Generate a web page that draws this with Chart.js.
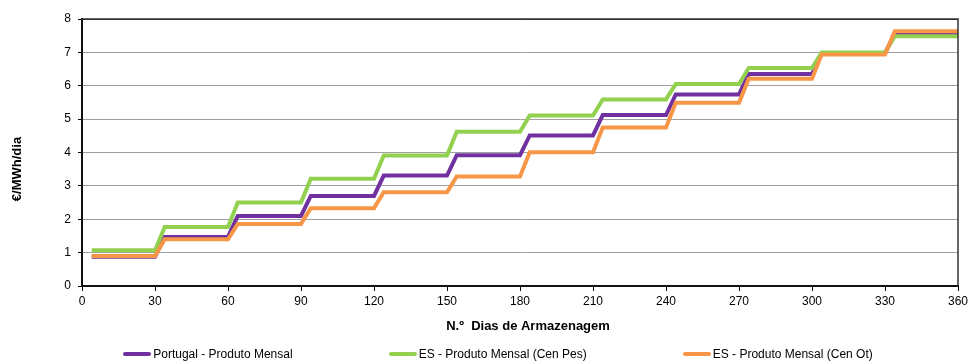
<!DOCTYPE html>
<html>
<head>
<meta charset="utf-8">
<script src="https://cdn.jsdelivr.net/npm/chart.js@4"></script>
<style>
  body { margin: 0; background: #fff; }
  #wrap { position: relative; width: 976px; height: 361px; }
  #legenda {
    position: absolute; left: 0; top: 347px; width: 976px; box-sizing: border-box; padding-left: 20px;
    display: flex; justify-content: center; gap: 96px;
    font: 12px "Liberation Sans", Arial, sans-serif; color: #000;
  }
  #legenda span.item { display: flex; align-items: center; white-space: nowrap; }
  #legenda i { display: inline-block; width: 28px; height: 4px; border-radius: 2px; margin-right: 2px; }
</style>
</head>
<body>
<div id="wrap">
  <canvas id="grafik" width="976" height="361"></canvas>
  <div id="legenda"></div>
</div>
<script>
// dias de armazenagem (eixo x) e valor mensal de cada serie em €/MWh/dia
const dayTicks = [0, 30, 60, 90, 120, 150, 180, 210, 240, 270, 300, 330, 360];
const valueTicks = [0, 1, 2, 3, 4, 5, 6, 7, 8];
const firstDay = 4;
const rampDays = 4;

const portugal = [0.88, 1.47, 2.10, 2.70, 3.31, 3.92, 4.51, 5.12, 5.74, 6.35, 6.97, 7.56];
const cenPes = [1.07, 1.77, 2.50, 3.21, 3.91, 4.62, 5.11, 5.59, 6.05, 6.53, 7.00, 7.48];
const cenOt = [0.90, 1.40, 1.86, 2.33, 2.81, 3.28, 4.01, 4.75, 5.49, 6.21, 6.94, 7.63];

const series = [
  { label: "Portugal - Produto Mensal", values: portugal, color: "#7030A0", order: 3 },
  { label: "ES - Produto Mensal (Cen Pes)", values: cenPes, color: "#92D050", order: 2 },
  { label: "ES - Produto Mensal (Cen Ot)", values: cenOt, color: "#F79646", order: 1 },
];

// cada mes fica constante e sobe para o seguinte em poucos dias
function degraus(values) {
  const pts = [];
  values.forEach((v, i) => {
    const start = i === 0 ? firstDay : dayTicks[i] + rampDays;
    pts.push({ x: start, y: v });
    pts.push({ x: dayTicks[i + 1], y: v });
  });
  return pts;
}

const fontFamily = '"Liberation Sans", Arial, sans-serif';

// moldura de cima/direita e titulos dos eixos
const moldura = {
  id: "moldura",
  afterDraw(chart) {
    const { ctx, chartArea: a } = chart;
    ctx.save();
    ctx.strokeStyle = "#333";
    ctx.lineWidth = 1.5;
    ctx.beginPath();
    ctx.moveTo(a.left, a.top);
    ctx.lineTo(a.right, a.top);
    ctx.lineTo(a.right, a.bottom);
    ctx.stroke();

    ctx.fillStyle = "#000";
    ctx.font = "bold 13px " + fontFamily;
    ctx.textAlign = "center";
    ctx.textBaseline = "middle";
    ctx.fillText("N.º  Dias de Armazenagem", 528, 326);
    ctx.translate(17, 169);
    ctx.rotate(-Math.PI / 2);
    ctx.fillText("€/MWh/dia", 0, 0);
    ctx.restore();
  },
};

const grafik = document.getElementById("grafik");
const armazenagem = new Chart(grafik, {
  type: "line",
  data: {
    datasets: series.map((s) => ({
      label: s.label,
      data: degraus(s.values),
      borderColor: s.color,
      backgroundColor: s.color,
      borderWidth: 4,
      pointRadius: 0,
      fill: false,
      tension: 0,
      order: s.order,
    })),
  },
  options: {
    responsive: false,
    animation: false,
    layout: { padding: { top: 19, right: 18, left: 0, bottom: 0 } },
    plugins: {
      legend: { display: false },
      tooltip: { enabled: false },
    },
    scales: {
      x: {
        type: "linear",
        min: 0,
        max: 360,
        afterBuildTicks: (scale) => {
          scale.ticks = dayTicks.map((v) => ({ value: v }));
        },
        afterFit: (scale) => {
          scale.height = 75;
        },
        grid: { drawOnChartArea: false, tickLength: 5, tickColor: "#000", tickWidth: 1 },
        border: { color: "#111", width: 2 },
        ticks: { color: "#000", font: { family: fontFamily, size: 12 }, padding: 3, maxRotation: 0 },
      },
      y: {
        min: 0,
        max: 8,
        afterBuildTicks: (scale) => {
          scale.ticks = valueTicks.map((v) => ({ value: v }));
        },
        afterFit: (scale) => {
          scale.width = 82;
        },
        grid: {
          color: (c) => (c.tick && c.tick.value === 8 ? "#333" : "#a0a0a0"),
          tickLength: 4,
          tickColor: "#000",
        },
        border: { color: "#111", width: 2 },
        ticks: { color: "#000", font: { family: fontFamily, size: 12 }, padding: 7 },
      },
    },
  },
  plugins: [moldura],
});

const legenda = document.getElementById("legenda");
series.forEach((s) => {
  const item = document.createElement("span");
  item.className = "item";
  const mark = document.createElement("i");
  mark.style.background = s.color;
  item.appendChild(mark);
  item.appendChild(document.createTextNode(s.label));
  legenda.appendChild(item);
});
</script>
</body>
</html>
